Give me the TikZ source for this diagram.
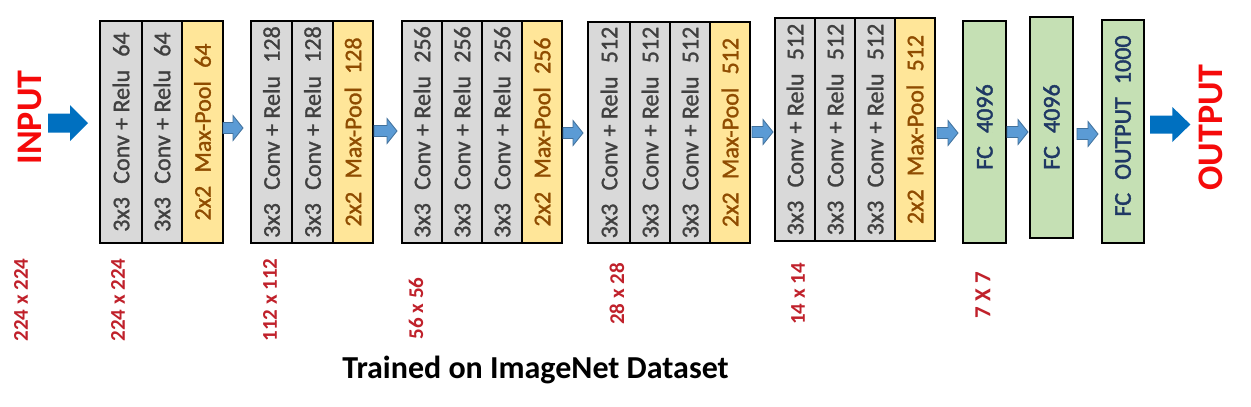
\documentclass[tikz,border=0pt]{standalone}
\usepackage{fontspec}
\setmainfont{Carlito}
\newfontfamily\colfont[FakeBold=1.2]{Carlito}
\newfontfamily\fcfont[FakeBold=1.8]{Carlito}
\usetikzlibrary{calc}
\definecolor{cgray}{HTML}{D9D9D9}
\definecolor{cgtext}{HTML}{404040}
\definecolor{cyel}{HTML}{FFE699}
\definecolor{cytext}{HTML}{8F4C00}
\definecolor{cgreen}{HTML}{C5E0B4}
\definecolor{cfctext}{HTML}{1F3864}
\definecolor{cbig}{HTML}{0070C0}
\definecolor{csmallfill}{HTML}{5B9BD5}
\definecolor{csmalldraw}{HTML}{41719C}
\definecolor{cred}{HTML}{F50A0A}
\definecolor{cdim}{HTML}{C0212B}
\tikzset{
  layer/.style={draw=black, line width=1.8pt, rotate=90, inner sep=0pt, outer sep=0pt, font=\colfont\fontsize{24}{28}\selectfont},
  conv/.style={layer, fill=cgray, text=cgtext},
  pool/.style={layer, fill=cyel, text=cytext},
  fcbox/.style={layer, fill=cgreen},
  fctext/.style={rotate=90, inner sep=0pt, text=cfctext, font=\fcfont\fontsize{24}{28}\selectfont},
  dimlab/.style={rotate=90, inner sep=0pt, text=cdim, font=\bfseries\fontsize{21}{25}\selectfont},
  iolab/.style={rotate=90, inner sep=0pt, text=cred, font=\bfseries\fontsize{36}{40}\selectfont},
  smallarrow/.style={fill=csmallfill, draw=csmalldraw, line width=0.8pt, line join=miter},
  bigarrow/.style={fill=cbig},
  caption/.style={inner sep=0pt, text=black, font=\bfseries\fontsize{32}{36}\selectfont},
}
\newcommand{\gp}{\hspace{0.55em}}
% name, style, xc, yc, w, h, text
\newcommand{\col}[7]{\node[#2, minimum width=#6pt, minimum height=#5pt] (#1) at (#3,#4) {#7};}
% style, from, to, y, gap1, gap2, shafthalf, headhalf, headlen
\newcommand{\blockarr}[9]{%
  \coordinate (ts) at ($(#2.south |- 0,#4)+(#5,0)$);
  \coordinate (te) at ($(#3.north |- 0,#4)+(-#6,0)$);
  \path[#1] ($(ts)+(0,-#7)$) -- ($(te)+(-#9,-#7)$) -- ($(te)+(-#9,-#8)$) -- (te)
     -- ($(te)+(-#9,#8)$) -- ($(te)+(-#9,#7)$) -- ($(ts)+(0,#7)$) -- cycle;
}
\begin{document}
\begin{tikzpicture}[x=1pt,y=-1pt]
\fill[white] (0,0) rectangle (1251,407);
\useasboundingbox (0,0) rectangle (1251,407);

% block 1
\col{b1a}{conv}{121}{132}{42}{222}{3x3\gp Conv + Relu\gp 64}
\col{b1b}{conv}{162}{132}{40}{222}{3x3\gp Conv + Relu\gp 64}
\col{b1c}{pool}{202.5}{132}{41}{222}{2x2\gp Max-Pool\gp 64}
% block 2
\col{b2a}{conv}{271.5}{132}{41}{222}{3x3\gp Conv + Relu\gp 128}
\col{b2b}{conv}{312.5}{132}{41}{222}{3x3\gp Conv + Relu\gp 128}
\col{b2c}{pool}{353}{132}{40}{222}{2x2\gp Max-Pool\gp 128}
% block 3
\col{b3a}{conv}{422}{132}{40}{222}{3x3\gp Conv + Relu\gp 256}
\col{b3b}{conv}{462}{132}{40}{222}{3x3\gp Conv + Relu\gp 256}
\col{b3c}{conv}{502}{132}{40}{222}{3x3\gp Conv + Relu\gp 256}
\col{b3d}{pool}{542}{132}{40}{222}{2x2\gp Max-Pool\gp 256}
% block 4
\col{b4a}{conv}{609}{132.5}{42}{221}{3x3\gp Conv + Relu\gp 512}
\col{b4b}{conv}{650}{132.5}{40}{221}{3x3\gp Conv + Relu\gp 512}
\col{b4c}{conv}{690}{132.5}{40}{221}{3x3\gp Conv + Relu\gp 512}
\col{b4d}{pool}{730}{132.5}{40}{221}{2x2\gp Max-Pool\gp 512}
% block 5
\col{b5a}{conv}{795}{129.5}{40}{223}{3x3\gp Conv + Relu\gp 512}
\col{b5b}{conv}{835}{129.5}{40}{223}{3x3\gp Conv + Relu\gp 512}
\col{b5c}{conv}{875}{129.5}{40}{223}{3x3\gp Conv + Relu\gp 512}
\col{b5d}{pool}{915}{129.5}{40}{223}{2x2\gp Max-Pool\gp 512}
% fully connected
\col{fc1}{fcbox}{984.5}{132}{43}{222}{}
\col{fc2}{fcbox}{1051.5}{127.5}{43}{221}{}
\col{fc3}{fcbox}{1123}{131.5}{42}{223}{}
\node[fctext] (fc1t) at (984.5,127) {FC\gp 4096};
\node[fctext] (fc2t) at (1051.5,127) {FC\gp 4096};
\node[fctext] (fc3t) at (1123,126) {FC\gp OUTPUT\gp 1000};

% input / output
\node[iolab] (inp) at (30,117.5) {INPUT};
\node[iolab] (outp) at (1210.5,127.5) {OUTPUT};

% arrows
\blockarr{bigarrow}{inp}{b1a}{123}{6}{12}{9.5}{18}{18}
\blockarr{smallarrow}{b1c}{b2a}{128}{0}{8}{5.5}{12.5}{10}
\blockarr{smallarrow}{b2c}{b3a}{131}{1}{5}{5.5}{12.5}{10}
\blockarr{smallarrow}{b3d}{b4a}{133}{1}{5}{5.5}{12.5}{10}
\blockarr{smallarrow}{b4d}{b5a}{132}{2}{2}{5.5}{12.5}{10}
\blockarr{smallarrow}{b5d}{fc1}{133}{2}{5}{5.5}{12.5}{10}
\blockarr{smallarrow}{fc1}{fc2}{132}{1}{2}{5.5}{12.5}{10}
\blockarr{smallarrow}{fc2}{fc3}{134}{4}{4}{5.5}{12.5}{10}
\blockarr{bigarrow}{fc3}{outp}{124.5}{6}{8}{9}{17.5}{18}

% dimension labels
\node[dimlab] (d1) at (21,300) {224 x 224};
\node[dimlab] (d2) at (118,300) {224 x 224};
\node[dimlab] (d3) at (270,300) {112 x 112};
\node[dimlab] (d4) at (416,308.5) {56 x 56};
\node[dimlab] (d5) at (617,294) {28 x 28};
\node[dimlab] (d6) at (798,294) {14 x 14};
\node[dimlab, font=\bfseries\fontsize{23}{27}\selectfont] (d7) at (983,295) {7 X 7};

% caption
\node[caption, anchor=base] (cap) at (535.5,378) {Trained on ImageNet Dataset};
\end{tikzpicture}
\end{document}
